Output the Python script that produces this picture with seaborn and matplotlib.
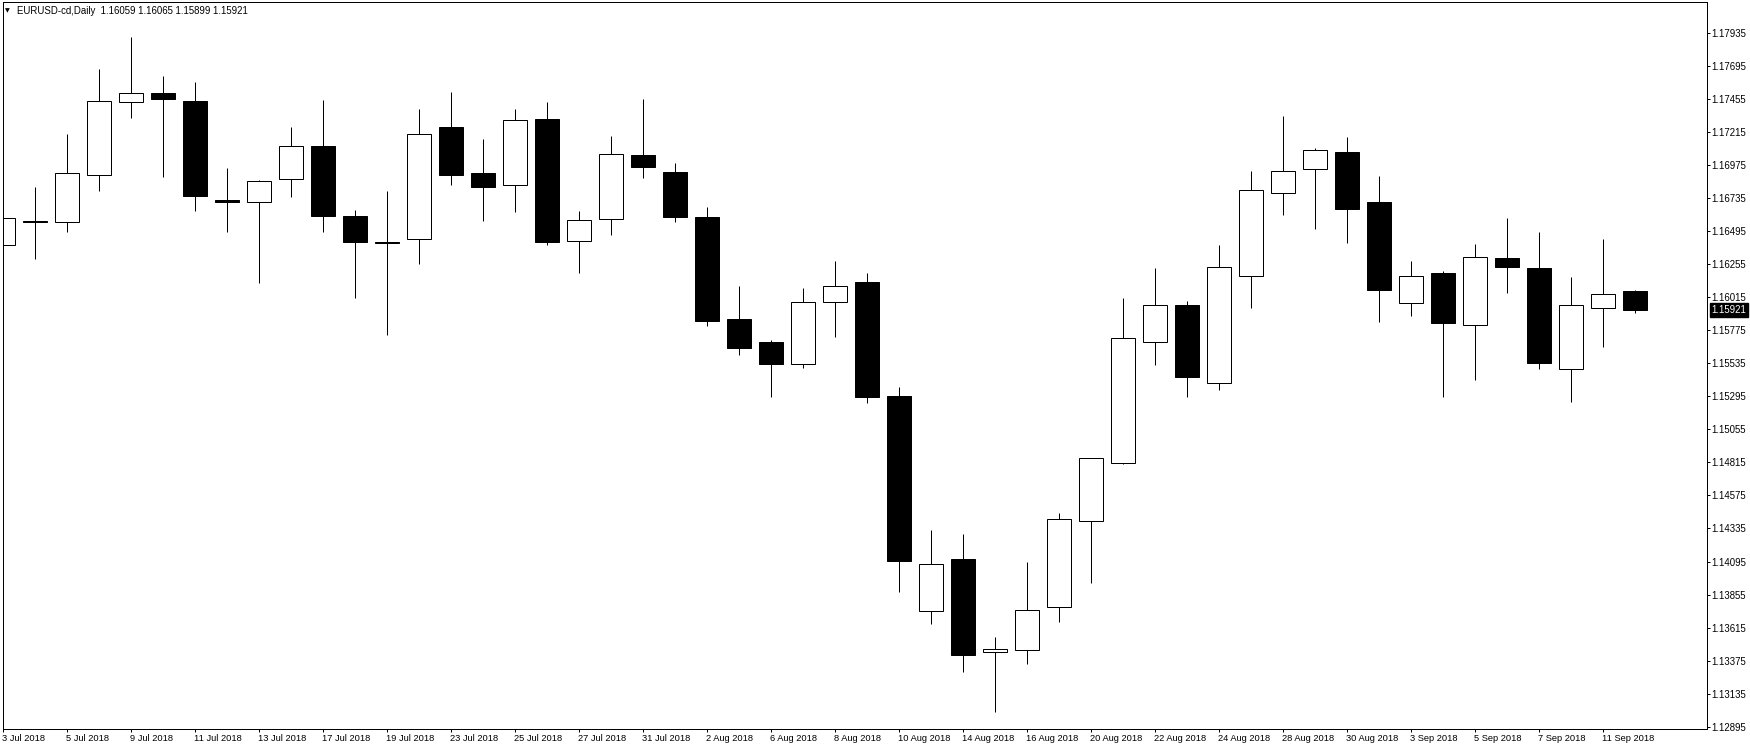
import numpy as np
import pandas as pd
import matplotlib
matplotlib.use("Agg")
import matplotlib.pyplot as plt
import seaborn as sns
from matplotlib.transforms import ScaledTranslation

# ---------------- data ----------------
dates = ["3 Jul 2018", "4 Jul 2018", "5 Jul 2018", "6 Jul 2018", "9 Jul 2018",
         "10 Jul 2018", "11 Jul 2018", "12 Jul 2018", "13 Jul 2018", "16 Jul 2018",
         "17 Jul 2018", "18 Jul 2018", "19 Jul 2018", "20 Jul 2018", "23 Jul 2018",
         "24 Jul 2018", "25 Jul 2018", "26 Jul 2018", "27 Jul 2018", "30 Jul 2018",
         "31 Jul 2018", "1 Aug 2018", "2 Aug 2018", "3 Aug 2018", "6 Aug 2018",
         "7 Aug 2018", "8 Aug 2018", "9 Aug 2018", "10 Aug 2018", "13 Aug 2018",
         "14 Aug 2018", "15 Aug 2018", "16 Aug 2018", "17 Aug 2018", "20 Aug 2018",
         "21 Aug 2018", "22 Aug 2018", "23 Aug 2018", "24 Aug 2018", "27 Aug 2018",
         "28 Aug 2018", "29 Aug 2018", "30 Aug 2018", "31 Aug 2018", "3 Sep 2018",
         "4 Sep 2018", "5 Sep 2018", "6 Sep 2018", "7 Sep 2018", "10 Sep 2018",
         "11 Sep 2018", "12 Sep 2018"]

opens = [1.16395, 1.16566, 1.16560, 1.16902, 1.17432, 1.17498, 1.17444, 1.16722,
         1.16705, 1.16873, 1.17115, 1.16606, 1.16416, 1.16437, 1.17253, 1.16918,
         1.16829, 1.17311, 1.16422, 1.16582, 1.17049, 1.16926, 1.16599, 1.15857,
         1.15690, 1.15528, 1.15979, 1.16126, 1.15297, 1.13732, 1.14112, 1.13441,
         1.13449, 1.13768, 1.14386, 1.14808, 1.15688, 1.15957, 1.15390, 1.16168,
         1.16771, 1.16945, 1.17071, 1.16708, 1.15971, 1.16192, 1.15813, 1.16301,
         1.16228, 1.15491, 1.15935, 1.16059]
highs = [1.16729, 1.16817, 1.17202, 1.17675, 1.17907, 1.17621, 1.17580, 1.16955,
         1.16865, 1.17253, 1.17449, 1.16650, 1.16788, 1.17384, 1.17507, 1.17166,
         1.17384, 1.17435, 1.16642, 1.17188, 1.17456, 1.16991, 1.16671, 1.16097,
         1.15704, 1.16082, 1.16279, 1.16192, 1.15363, 1.14323, 1.14294, 1.13547,
         1.14090, 1.14447, 1.14846, 1.16010, 1.16228, 1.15988, 1.16395, 1.16933,
         1.17333, 1.17100, 1.17180, 1.16897, 1.16279, 1.16206, 1.16400, 1.16591,
         1.16490, 1.16162, 1.16439, 1.16065]
lows = [1.16201, 1.16293, 1.16492, 1.16790, 1.17316, 1.16892, 1.16644, 1.16487,
        1.16121, 1.16746, 1.16487, 1.16012, 1.15743, 1.16259, 1.16833, 1.16572,
        1.16637, 1.16397, 1.16194, 1.16470, 1.16884, 1.16564, 1.15808, 1.15598,
        1.15292, 1.15504, 1.15728, 1.15249, 1.13875, 1.13642, 1.13293, 1.13005,
        1.13351, 1.13656, 1.13940, 1.14805, 1.15525, 1.15292, 1.15343, 1.15939,
        1.16615, 1.16514, 1.16412, 1.15837, 1.15881, 1.15292, 1.15416, 1.16048,
        1.15496, 1.15256, 1.15651, 1.15899]
closes = [1.16589, 1.16562, 1.16916, 1.17442, 1.17498, 1.17454, 1.16753, 1.16706,
          1.16858, 1.17115, 1.16608, 1.16419, 1.16409, 1.17200, 1.16906, 1.16819,
          1.17302, 1.16419, 1.16575, 1.17054, 1.16964, 1.16601, 1.15845, 1.15648,
          1.15532, 1.15979, 1.16097, 1.15292, 1.14100, 1.14074, 1.13419, 1.13456,
          1.13739, 1.14401, 1.14844, 1.15717, 1.15957, 1.15438, 1.16233, 1.16793,
          1.16931, 1.17084, 1.16659, 1.16070, 1.16168, 1.15826, 1.16306, 1.16233,
          1.15539, 1.15957, 1.16037, 1.15921]

yticks = [1.12895, 1.13135, 1.13375, 1.13615, 1.13855, 1.14095, 1.14335, 1.14575,
          1.14815, 1.15055, 1.15295, 1.15535, 1.15775, 1.16015, 1.16255, 1.16495,
          1.16735, 1.16975, 1.17215, 1.17455, 1.17695, 1.17935]
symbol = "EURUSD-cd,Daily"

# ---------------- style ----------------
sns.set_theme(style="white")
plt.rcParams['font.family'] = ['Liberation Sans', 'DejaVu Sans']
plt.rcParams['axes.linewidth'] = 0.72

W, H = 1750, 750
fig = plt.figure(figsize=(W / 100, H / 100), dpi=100)
fig.patch.set_facecolor('white')
ax = fig.add_axes([2.5 / W, (H - 729) / H, (1707 - 2.5) / W, (729 - 2.3) / H])
ax.set_facecolor('white')

df = pd.DataFrame(dict(date=dates, open=opens, high=highs, low=lows, close=closes))
df['x'] = np.arange(len(df))
df['up'] = df['close'] > df['open']
px = 0.72

ax.vlines(df['x'], df['low'], df['high'], color='black', lw=px, zorder=1)
body_bottom = np.minimum(df['open'], df['close'])
body_h = np.maximum(np.abs(df['close'] - df['open']), 0.00002)
colors = np.where(df['up'], 'white', 'black')
ax.bar(df['x'], body_h, bottom=body_bottom, width=0.75, color=colors,
       edgecolor='black', linewidth=px, zorder=2)

ax.set_xlim(-0.016, 53.25)
ax.set_ylim(1.12878, 1.18158)

for s in ax.spines.values():
    s.set_color('black')
    s.set_linewidth(px)
    s.set_visible(True)

# y axis on right
ax.yaxis.tick_right()
ax.set_yticks(yticks)
ax.set_yticklabels([f"{v:.5f}" for v in yticks])
ax.tick_params(axis='y', direction='out', length=3 * px, width=px, pad=1,
               labelsize=6.9, colors='black', left=False, right=True)

# x axis
xt = df['x'][::2].tolist()
ax.set_xticks(xt)
ax.set_xticklabels(df['date'][::2].tolist())
ax.tick_params(axis='x', direction='out', length=3 * px, width=px, pad=1.5,
               labelsize=6.7, colors='black', bottom=True)
off = ScaledTranslation(-1.5 / 100, 0, fig.dpi_scale_trans)
for lbl in ax.get_xticklabels():
    lbl.set_horizontalalignment('left')
    lbl.set_transform(lbl.get_transform() + off)

ax.grid(False)

# current price marker
last = df['close'].iloc[-1]
ax.annotate(f"{last:.5f}", xy=(1, last), xycoords=('axes fraction', 'data'),
            xytext=(4.5, 0), textcoords='offset pixels', ha='left', va='center',
            fontsize=6.9, color='white',
            bbox=dict(boxstyle='square,pad=0.2', fc='black', ec='black'))

# header text
fig.text(5 / W, 1 - 10.5 / H, "▼", fontsize=4.5, ha='left', va='center',
         color='black', family=['DejaVu Sans'])
o, h, l, c = df.iloc[-1][['open', 'high', 'low', 'close']]
fig.text(17 / W, 1 - 10.5 / H,
         f"{symbol}  {o:.5f} {h:.5f} {l:.5f} {c:.5f}",
         fontsize=6.9, ha='left', va='center', color='black')

fig.savefig("out.png", dpi=100, facecolor='white')
